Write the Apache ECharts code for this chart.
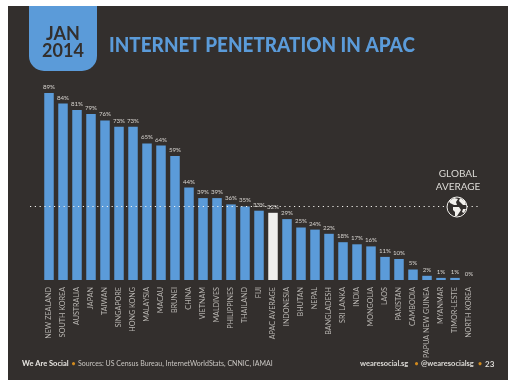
<!DOCTYPE html>
<html>
<head>
<meta charset="utf-8">
<script src="https://cdn.jsdelivr.net/npm/echarts@6/dist/echarts.min.js"></script>
<style>
  html, body { margin: 0; padding: 0; background: #fff; }
  #chart { width: 515px; height: 385px; }
</style>
</head>
<body>
<div id="chart"></div>
<script>
var countries = ['NEW ZEALAND', 'SOUTH KOREA', 'AUSTRALIA', 'JAPAN', 'TAIWAN', 'SINGAPORE', 'HONG KONG', 'MALAYSIA', 'MACAU', 'BRUNEI', 'CHINA', 'VIETNAM', 'MALDIVES', 'PHILIPPINES', 'THAILAND', 'FIJI', 'APAC AVERAGE', 'INDONESIA', 'BHUTAN', 'NEPAL', 'BANGLADESH', 'SRI LANKA', 'INDIA', 'MONGOLIA', 'LAOS', 'PAKISTAN', 'CAMBODIA', 'PAPUA NEW GUINEA', 'MYANMAR', 'TIMOR-LESTE', 'NORTH KOREA'];
var penetration = [89, 84, 81, 79, 76, 73, 73, 65, 64, 59, 44, 39, 39, 36, 35, 33, 32, 29, 25, 24, 22, 18, 17, 16, 11, 10, 5, 2, 1, 1, 0];
var globalAverage = [35, 35];
var highlighted = 'APAC AVERAGE';

var dark = '#332f2d';
var blue = '#5b9bd9';
var font = 'Lato';

function label(text, x, y, size, color, weight, align) {
  return {
    type: 'text', x: x, y: y, z: 20,
    style: { text: text, fontFamily: font, fontSize: size, fill: color, fontWeight: weight || 'normal', align: align || 'left', verticalAlign: 'middle' }
  };
}

// continents on the little globe
function land(points) {
  return { type: 'polygon', z: 16, shape: { points: points }, style: { fill: '#f2f0ec' } };
}

var title = label('INTERNET PENETRATION IN APAC', 109, 45, 21, blue, 900);
title.scaleX = 0.9;

var chart = echarts.init(document.getElementById('chart'));
chart.setOption({
  animation: false,
  backgroundColor: '#fff',
  grid: [
    { left: 42, width: 434, top: 70, height: 210 },
    { left: 30, width: 448, top: 70, height: 210 }
  ],
  xAxis: [
    {
      type: 'category', gridIndex: 0, data: countries,
      axisLine: { show: false }, axisTick: { show: false },
      axisLabel: { interval: 0, rotate: 90, margin: 7, fontSize: 7.2, fontFamily: font, color: '#b9b6b2' }
    },
    { type: 'value', gridIndex: 1, min: 0, max: 1, show: false }
  ],
  yAxis: [
    { type: 'value', gridIndex: 0, min: 0, max: 100, show: false },
    { type: 'value', gridIndex: 1, min: 0, max: 100, show: false }
  ],
  series: [
    {
      type: 'bar', xAxisIndex: 0, yAxisIndex: 0, barWidth: 9.5, z: 5,
      data: penetration.map(function (v, i) {
        return { value: v, itemStyle: { color: countries[i] === highlighted ? '#f0efed' : blue } };
      }),
      label: {
        show: true, position: 'top', distance: 3, formatter: '{c}%',
        fontSize: 6.2, fontFamily: font, color: '#d6d3cf'
      }
    },
    {
      type: 'line', xAxisIndex: 1, yAxisIndex: 1, z: 8, symbol: 'none', silent: true,
      data: [[0, globalAverage[0]], [1, globalAverage[1]]],
      lineStyle: { color: '#f2f0ec', width: 1, type: [1.2, 3.6] }
    }
  ],
  graphic: [
    { type: 'rect', z: -10, silent: true, shape: { x: 8, y: 6, width: 500, height: 374 }, style: { fill: dark } },
    { type: 'rect', z: 10, shape: { x: 29, y: 6, width: 68, height: 65, r: [0, 0, 15, 15] }, style: { fill: blue } },
    { type: 'text', x: 63, y: 34, z: 20, style: { text: 'JAN', fontFamily: font, fontSize: 18, fontWeight: 'bold', fill: dark, align: 'center', verticalAlign: 'middle' } },
    { type: 'text', x: 63, y: 51, z: 20, style: { text: '2014', fontFamily: font, fontSize: 18, fontWeight: 'bold', fill: dark, align: 'center', verticalAlign: 'middle' } },
    title,
    label('GLOBAL', 458, 174, 10, '#dcdad6', 'normal', 'center'),
    label('AVERAGE', 458, 187, 10, '#dcdad6', 'normal', 'center'),
    { type: 'circle', z: 15, shape: { cx: 457, cy: 207, r: 10 }, style: { fill: dark, stroke: '#f2f0ec', lineWidth: 1 } },
    land([[449, 201], [454, 198], [458, 199], [456, 202], [457, 205], [454, 205], [452, 204], [450, 203]]),
    land([[460, 198], [465, 201], [466, 205], [463, 205], [461, 203], [459, 201]]),
    land([[453, 207], [459, 207], [461, 210], [459, 213], [457, 216], [455, 216], [455, 212], [453, 210]]),
    land([[463, 209], [466, 209], [464, 213], [462, 212]]),
    label('We Are Social', 22, 364, 7.5, '#e8e6e2', 'bold'),
    label('\u2022', 71.5, 364, 7, '#d18a1e', 'bold'),
    label('Sources: US Census Bureau, InternetWorldStats, CNNIC, IAMAI', 78, 364, 7, '#c9c6c2'),
    label('wearesocial.sg', 360, 364, 7.5, '#dedcd8', 'bold'),
    label('\u2022', 414.5, 364, 7, '#d18a1e', 'bold'),
    label('@wearesocialsg', 421, 364, 7.5, '#dedcd8', 'bold'),
    label('\u2022', 478, 364, 7, '#d18a1e', 'bold'),
    label('23', 485, 364, 8, '#dedcd8', 'bold')
  ]
});
</script>
</body>
</html>
